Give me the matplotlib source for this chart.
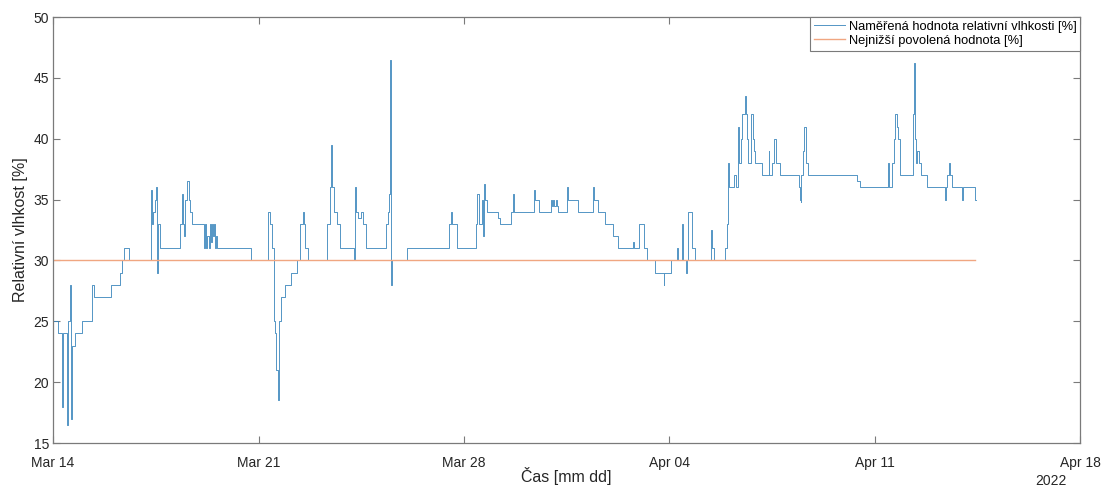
import datetime as dt
import matplotlib
matplotlib.use("Agg")
import matplotlib.pyplot as plt
import matplotlib.dates as mdates

plt.rcParams["font.family"] = ["Liberation Sans", "DejaVu Sans"]

# ── data ──────────────────────────────────────────────────────────
START = dt.datetime(2022, 3, 14)

# day offset from Mar 14 (fractional) and measured relative humidity
day_offsets = [
    0.00, 0.18, 0.30, 0.33, 0.48, 0.52, 0.58, 0.62, 0.66, 0.75, 0.98, 1.32,
    1.38, 1.98, 2.29, 2.34, 2.42, 2.57, 3.35, 3.38, 3.42, 3.47, 3.50, 3.53,
    3.56, 3.63, 4.34, 4.38, 4.42, 4.46, 4.50, 4.56, 4.62, 4.66, 4.73, 5.15,
    5.18, 5.21, 5.26, 5.30, 5.34, 5.37, 5.42, 5.45, 5.49, 5.52, 5.56, 5.59,
    6.73, 7.33, 7.40, 7.46, 7.52, 7.56, 7.61, 7.65, 7.69, 7.77, 7.90, 8.11,
    8.30, 8.40, 8.50, 8.56, 8.60, 8.69, 9.34, 9.42, 9.48, 9.52, 9.58, 9.66,
    9.78, 10.27, 10.29, 10.32, 10.40, 10.48, 10.55, 10.65, 11.36, 11.40,
    11.45, 11.49, 11.51, 11.53, 11.56, 12.07, 13.50, 13.55, 13.60, 13.78,
    14.41, 14.46, 14.50, 14.60, 14.65, 14.70, 14.73, 14.78, 15.15, 15.24,
    15.62, 15.66, 15.70, 16.40, 16.43, 16.57, 16.97, 17.00, 17.04, 17.08,
    17.12, 17.17, 17.22, 17.51, 17.53, 17.90, 18.40, 18.43, 18.56, 18.81,
    19.07, 19.24, 19.75, 19.78, 19.95, 20.13, 20.25, 20.50, 20.80, 20.83,
    21.04, 21.27, 21.29, 21.43, 21.46, 21.57, 21.60, 21.63, 21.77, 21.86,
    22.42, 22.45, 22.52, 22.89, 22.95, 23.00, 23.03, 23.20, 23.26, 23.33,
    23.37, 23.43, 23.49, 23.56, 23.60, 23.64, 23.69, 23.78, 23.84, 23.89,
    23.93, 24.14, 24.38, 24.40, 24.51, 24.57, 24.65, 24.78, 25.41, 25.44,
    25.47, 25.50, 25.55, 25.60, 25.64, 25.73, 27.38, 27.50, 28.44, 28.47,
    28.60, 28.64, 28.69, 28.75, 28.80, 28.87, 29.30, 29.33, 29.36, 29.40,
    29.43, 29.49, 29.58, 29.77, 30.40, 30.43, 30.46, 30.52, 30.57, 30.62,
    30.97, 31.00, 31.42, 31.44,
]
humidity = [
    25, 24, 18, 24, 16.5, 25, 28, 17, 23, 24, 25, 28,
    27, 28, 29, 30, 31, 30, 35.8, 33, 34, 35, 36, 29,
    33, 31, 33, 35.5, 33, 32, 35, 36.5, 35, 34, 33, 31,
    33, 31, 32, 31, 33, 31.5, 33, 32, 33, 31, 32, 31,
    30, 34, 33, 31, 25, 24, 21, 18.5, 25, 27, 28, 29,
    30, 33, 34, 33, 31, 30, 33, 36, 39.5, 36, 34, 33,
    31, 30, 36, 34, 33.5, 34, 33, 31, 33, 34,
    35.5, 46.5, 34, 28, 30, 31, 33, 34, 33, 31,
    33, 35.5, 33, 35, 32, 36.3, 35, 34, 33.5, 33,
    34, 35.5, 34, 35.8, 35, 34, 35, 34.5, 35, 34.5,
    35, 34.5, 34, 36, 35, 34, 36, 35, 34, 33,
    32, 31, 31.5, 31, 33, 31, 30, 29, 28, 29,
    30, 31, 30, 33, 30, 29, 30, 34, 31, 30,
    32.5, 31, 30, 31, 33, 38, 36, 37, 36, 41,
    38, 40, 42, 43.5, 42, 40, 38, 42, 40, 39,
    38, 37, 39, 37, 38, 40, 38, 37, 36, 35,
    34.8, 37, 39, 41, 38, 37, 36.5, 36, 38, 36,
    38, 40, 42, 41, 40, 37, 42, 46.2, 40, 38,
    39, 38, 37, 36, 35, 36, 37, 38, 37, 36,
    35, 36, 35, 35,
]
limit_value = 30
limit_days = [0.0, 31.42]

label_measured = "Naměřená hodnota relativní vlhkosti [%]"
label_limit = "Nejnižší povolená hodnota [%]"

times = [START + dt.timedelta(days=d) for d in day_offsets]
limit_times = [START + dt.timedelta(days=d) for d in limit_days]

# ── figure ────────────────────────────────────────────────────────
fig = plt.figure(figsize=(11.06, 4.87), dpi=100)
ax = fig.add_axes([0.048, 0.0903, 0.9287, 0.8747])

ax.plot(times, humidity, drawstyle="steps-post", color="#3583ba",
        lw=0.7, alpha=0.85, label=label_measured)
ax.plot(limit_times, [limit_value] * 2, color="#f0a681", lw=1.0,
        label=label_limit)

ax.set_xlim(START, START + dt.timedelta(days=35))
ax.set_ylim(15, 50)
ax.set_yticks(range(15, 51, 5))
ax.set_xticks([START + dt.timedelta(days=7 * k) for k in range(6)])
ax.xaxis.set_major_formatter(mdates.DateFormatter("%b %d"))

axis_grey = "#7a7a7a"
for sp in ax.spines.values():
    sp.set_color(axis_grey)
    sp.set_linewidth(0.9)
ax.tick_params(direction="in", length=5, width=0.8, color=axis_grey,
               labelsize=10, labelcolor="#262626", top=True, right=True)
ax.tick_params(axis="x", pad=9.5)
ax.tick_params(axis="y", pad=3)

ax.set_ylabel("Relativní vlhkost [%]", fontsize=11.5, color="#262626", labelpad=4)
ax.set_xlabel("Čas [mm dd]", fontsize=11.5, color="#262626", labelpad=-2.5)
ax.text(0.987, -0.072, "2022", transform=ax.transAxes, ha="right", va="top",
        fontsize=10, color="#262626")

leg = ax.legend(loc="upper right", borderaxespad=0, fontsize=9.3,
                fancybox=False, framealpha=1, edgecolor=axis_grey,
                handlelength=2.4, handletextpad=0.3, borderpad=0.3,
                labelspacing=0.15)
leg.get_frame().set_linewidth(0.8)

fig.savefig("out.png", dpi=100)
